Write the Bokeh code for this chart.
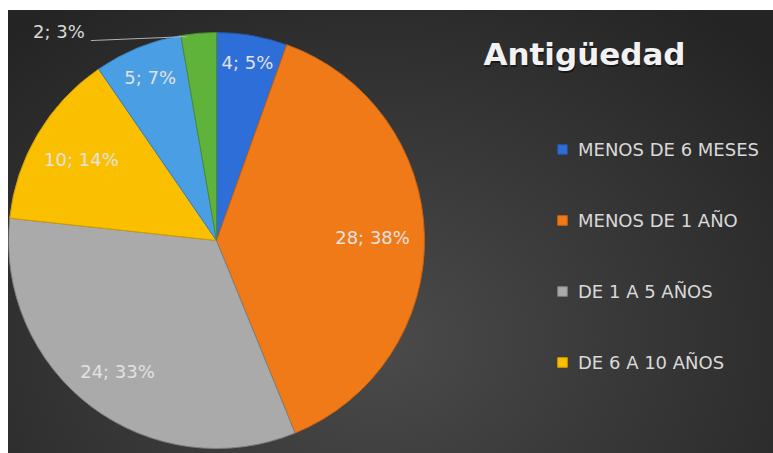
import numpy as np
from bokeh.plotting import figure
from bokeh.models import ColumnDataSource, Legend, LegendItem, Label
from bokeh.core.properties import value
from bokeh.embed import file_html
from bokeh.resources import INLINE

# ---- data ----
categories = ["MENOS DE 6 MESES", "MENOS DE 1 AÑO", "DE 1 A 5 AÑOS",
              "DE 6 A 10 AÑOS", "DE 11 A 20 AÑOS", "MÁS DE 20 AÑOS"]
counts = [4, 28, 24, 10, 5, 2]
legend_shown = 4  # the legend in the picture lists only the first four
colors = ["#2e6ed8", "#f07a18", "#aaaaaa", "#fac000", "#4a9fe4", "#5fb33a"]
edge_colors = ["#23549f", "#c9620f", "#7f7f7f", "#cf9b00", "#3a80bd", "#4a8d2c"]
title_text = "Antigüedad"

# ---- layout ----
W, H = 765, 443
cx, cy, R = 208, 213, 208
FONT = "DejaVu Sans"
CHAR_W, HALF_H, GAP = 10.5, 8, 15

vals = np.array(counts, dtype=float)
share = vals / vals.sum()
cum = np.concatenate([[0], np.cumsum(share)])
start = np.pi / 2 - 2 * np.pi * cum[:-1]
end = np.pi / 2 - 2 * np.pi * cum[1:]
mid = (start + end) / 2
pct = [f"{int(c)}; {int(round(s * 100))}%" for c, s in zip(counts, share)]

src = ColumnDataSource(dict(start=start, end=end, color=colors, edge=edge_colors,
                            cat=categories))

p = figure(width=W, height=H, x_range=(0, W), y_range=(0, H),
           output_backend="svg", toolbar_location=None, min_border=0)
p.axis.visible = False
p.grid.visible = False
p.outline_line_color = None
p.background_fill_color = None
p.border_fill_color = None
p.styles = {
    "margin-left": "8px",
    "margin-top": "10px",
    "background": "radial-gradient(ellipse 70% 95% at 48% 75%, #4b4b4b 0%, #393939 45%, #242424 100%)",
}

r = p.wedge(x=cx, y=cy, radius=R, start_angle="start", end_angle="end",
            direction="clock", fill_color="color", line_color="edge",
            line_width=1, source=src)

# data labels (best fit inside: pushed outward as far as the text box allows)
inside = share >= 0.04
half_w = np.array([len(t) for t in pct]) * CHAR_W / 2
extent = half_w * np.abs(np.cos(mid)) + HALF_H * np.abs(np.sin(mid))
lr = R - GAP - extent
lx = cx + lr * np.cos(mid)
ly = cy + lr * np.sin(mid)
lab_src = ColumnDataSource(dict(x=lx[inside], y=ly[inside],
                                t=[t for t, k in zip(pct, inside) if k]))
p.text(x="x", y="y", text="t", source=lab_src, text_align="center",
       text_baseline="middle", text_font=value(FONT), text_font_size="18px",
       text_color="#e2e2e2")

# outside labels with leader lines
for i in np.where(~inside)[0]:
    ex = cx + R * np.cos(start[i])
    ey = cy + R * np.sin(start[i])
    tx = ex - 122
    ty = ey + 4
    p.text(x=[tx], y=[ty], text=[pct[i]], text_align="center",
           text_baseline="middle", text_font=value(FONT),
           text_font_size="18px", text_color="#d9d9d9")
    p.line(x=[tx + 32, ex + 6], y=[ty - 9, ey - 1], line_color="#b0b0b0",
           line_width=1)

# title
TX, TY = 576, 400
p.add_layout(Label(x=TX, y=TY, x_offset=1, y_offset=-2, text=title_text,
                   text_font=FONT, text_font_style="bold", text_font_size="31px",
                   text_color="black", text_alpha=0.45, text_align="center",
                   text_baseline="middle"))
p.add_layout(Label(x=TX, y=TY, text=title_text, text_font=FONT,
                   text_font_style="bold", text_font_size="31px",
                   text_color="#f2f2f2", text_align="center",
                   text_baseline="middle"))

items = [LegendItem(label=categories[i], renderers=[r], index=i)
         for i in range(legend_shown)]
legend = Legend(items=items, location=(548, 80), padding=0, margin=0,
                spacing=49, glyph_width=12, glyph_height=12, label_height=22,
                label_standoff=10, label_text_font=FONT,
                label_text_font_size="18px", label_text_color="#d9d9d9",
                background_fill_alpha=0, border_line_alpha=0)
p.add_layout(legend)

open("out.html", "w").write(file_html(p, INLINE))
